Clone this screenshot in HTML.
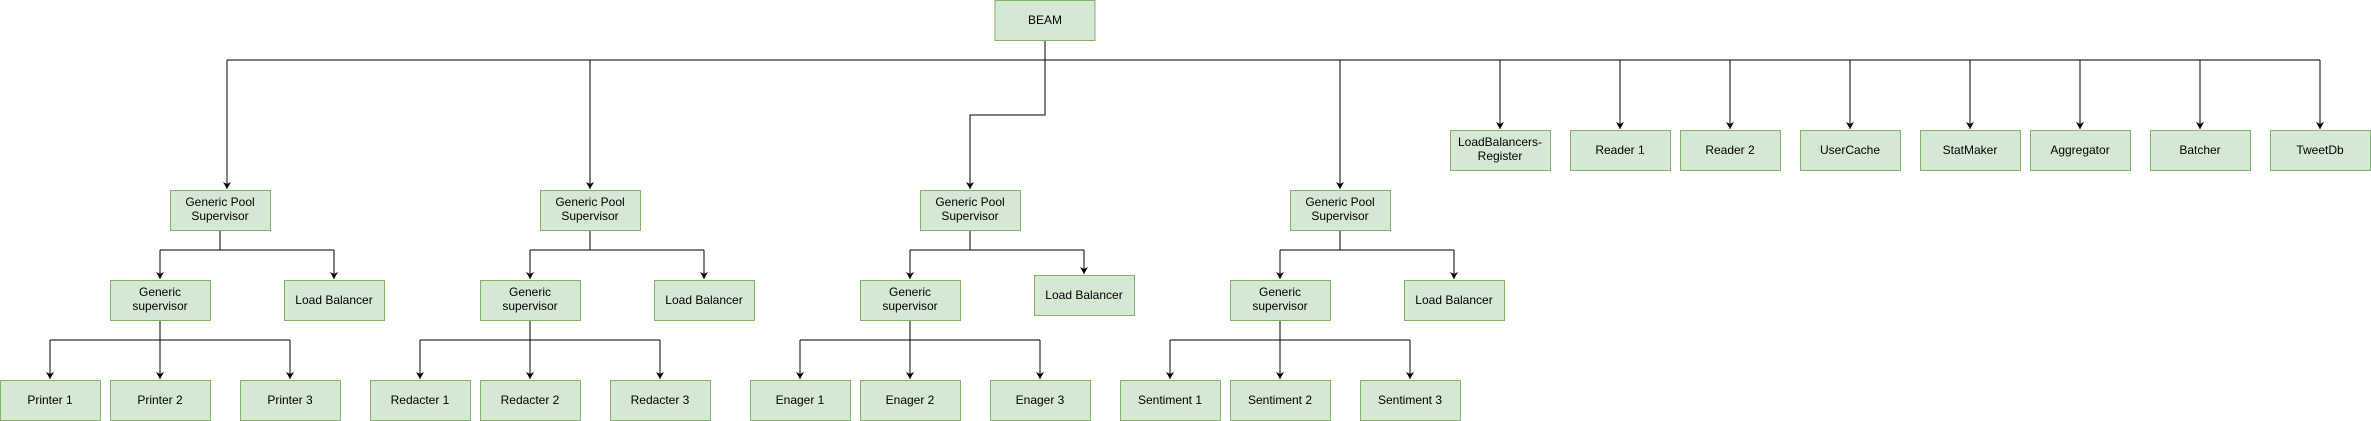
<!DOCTYPE html>
<html><head><meta charset="utf-8"><style>
html,body{margin:0;padding:0;background:#fff;}
svg{display:block;}
text{font-family:"Liberation Sans",Arial,sans-serif;font-size:12px;fill:#000;}
.b{fill:#d5e8d4;stroke:#82b366;stroke-width:1;}
.l{stroke:#000;stroke-width:1;fill:none;}
</style></head><body>
<svg width="2371" height="421" viewBox="0 0 2371 421" xmlns="http://www.w3.org/2000/svg">
<defs><marker id="a" markerWidth="8" markerHeight="8" refX="7" refY="4" orient="auto" markerUnits="userSpaceOnUse"><path d="M0,0 L7,4 L0,8 L2,4 Z" fill="#000" stroke="none"/></marker></defs>
<g class="l">
<path d="M1045,40 V115 H970 V189" marker-end="url(#a)"/>
<path d="M227,60 H2320"/>
<path d="M227,60 V189" marker-end="url(#a)"/>
<path d="M590,60 V189" marker-end="url(#a)"/>
<path d="M1340,60 V189" marker-end="url(#a)"/>
<path d="M1500,60 V129" marker-end="url(#a)"/>
<path d="M1620,60 V129" marker-end="url(#a)"/>
<path d="M1730,60 V129" marker-end="url(#a)"/>
<path d="M1850,60 V129" marker-end="url(#a)"/>
<path d="M1970,60 V129" marker-end="url(#a)"/>
<path d="M2080,60 V129" marker-end="url(#a)"/>
<path d="M2200,60 V129" marker-end="url(#a)"/>
<path d="M2320,60 V129" marker-end="url(#a)"/>
<path d="M220,230 V250 M160,250 H334"/>
<path d="M160,250 V279" marker-end="url(#a)"/><path d="M334,250 V279" marker-end="url(#a)"/>
<path d="M590,230 V250 M530,250 H704"/>
<path d="M530,250 V279" marker-end="url(#a)"/><path d="M704,250 V279" marker-end="url(#a)"/>
<path d="M970,230 V250 M910,250 H1084"/>
<path d="M910,250 V279" marker-end="url(#a)"/><path d="M1084,250 V274" marker-end="url(#a)"/>
<path d="M1340,230 V250 M1280,250 H1454"/>
<path d="M1280,250 V279" marker-end="url(#a)"/><path d="M1454,250 V279" marker-end="url(#a)"/>
<path d="M160,320 V340 M50,340 H290"/>
<path d="M50,340 V379" marker-end="url(#a)"/><path d="M160,340 V379" marker-end="url(#a)"/><path d="M290,340 V379" marker-end="url(#a)"/>
<path d="M530,320 V340 M420,340 H660"/>
<path d="M420,340 V379" marker-end="url(#a)"/><path d="M530,340 V379" marker-end="url(#a)"/><path d="M660,340 V379" marker-end="url(#a)"/>
<path d="M910,320 V340 M800,340 H1040"/>
<path d="M800,340 V379" marker-end="url(#a)"/><path d="M910,340 V379" marker-end="url(#a)"/><path d="M1040,340 V379" marker-end="url(#a)"/>
<path d="M1280,320 V340 M1170,340 H1410"/>
<path d="M1170,340 V379" marker-end="url(#a)"/><path d="M1280,340 V379" marker-end="url(#a)"/><path d="M1410,340 V379" marker-end="url(#a)"/>
</g>
<g>
<rect class="b" x="995" y="0.5" width="100" height="40"/><text x="1045" y="24" text-anchor="middle">BEAM</text>

<rect class="b" x="170.5" y="190.5" width="100" height="40"/><text x="220" y="206" text-anchor="middle">Generic Pool</text><text x="220" y="220" text-anchor="middle">Supervisor</text>
<rect class="b" x="540.5" y="190.5" width="100" height="40"/><text x="590" y="206" text-anchor="middle">Generic Pool</text><text x="590" y="220" text-anchor="middle">Supervisor</text>
<rect class="b" x="920.5" y="190.5" width="100" height="40"/><text x="970" y="206" text-anchor="middle">Generic Pool</text><text x="970" y="220" text-anchor="middle">Supervisor</text>
<rect class="b" x="1290.5" y="190.5" width="100" height="40"/><text x="1340" y="206" text-anchor="middle">Generic Pool</text><text x="1340" y="220" text-anchor="middle">Supervisor</text>

<rect class="b" x="110.5" y="280.5" width="100" height="40"/><text x="160" y="296" text-anchor="middle">Generic</text><text x="160" y="310" text-anchor="middle">supervisor</text>
<rect class="b" x="284.5" y="280.5" width="100" height="40"/><text x="334" y="304" text-anchor="middle">Load Balancer</text>
<rect class="b" x="480.5" y="280.5" width="100" height="40"/><text x="530" y="296" text-anchor="middle">Generic</text><text x="530" y="310" text-anchor="middle">supervisor</text>
<rect class="b" x="654.5" y="280.5" width="100" height="40"/><text x="704" y="304" text-anchor="middle">Load Balancer</text>
<rect class="b" x="860.5" y="280.5" width="100" height="40"/><text x="910" y="296" text-anchor="middle">Generic</text><text x="910" y="310" text-anchor="middle">supervisor</text>
<rect class="b" x="1034.5" y="275.5" width="100" height="40"/><text x="1084" y="299" text-anchor="middle">Load Balancer</text>
<rect class="b" x="1230.5" y="280.5" width="100" height="40"/><text x="1280" y="296" text-anchor="middle">Generic</text><text x="1280" y="310" text-anchor="middle">supervisor</text>
<rect class="b" x="1404.5" y="280.5" width="100" height="40"/><text x="1454" y="304" text-anchor="middle">Load Balancer</text>

<rect class="b" x="0.5" y="380.5" width="100" height="40"/><text x="50" y="404" text-anchor="middle">Printer 1</text>
<rect class="b" x="110.5" y="380.5" width="100" height="40"/><text x="160" y="404" text-anchor="middle">Printer 2</text>
<rect class="b" x="240.5" y="380.5" width="100" height="40"/><text x="290" y="404" text-anchor="middle">Printer 3</text>
<rect class="b" x="370.5" y="380.5" width="100" height="40"/><text x="420" y="404" text-anchor="middle">Redacter 1</text>
<rect class="b" x="480.5" y="380.5" width="100" height="40"/><text x="530" y="404" text-anchor="middle">Redacter 2</text>
<rect class="b" x="610.5" y="380.5" width="100" height="40"/><text x="660" y="404" text-anchor="middle">Redacter 3</text>
<rect class="b" x="750.5" y="380.5" width="100" height="40"/><text x="800" y="404" text-anchor="middle">Enager 1</text>
<rect class="b" x="860.5" y="380.5" width="100" height="40"/><text x="910" y="404" text-anchor="middle">Enager 2</text>
<rect class="b" x="990.5" y="380.5" width="100" height="40"/><text x="1040" y="404" text-anchor="middle">Enager 3</text>
<rect class="b" x="1120.5" y="380.5" width="100" height="40"/><text x="1170" y="404" text-anchor="middle">Sentiment 1</text>
<rect class="b" x="1230.5" y="380.5" width="100" height="40"/><text x="1280" y="404" text-anchor="middle">Sentiment 2</text>
<rect class="b" x="1360.5" y="380.5" width="100" height="40"/><text x="1410" y="404" text-anchor="middle">Sentiment 3</text>

<rect class="b" x="1450.5" y="130.5" width="100" height="40"/><text x="1500" y="146" text-anchor="middle">LoadBalancers-</text><text x="1500" y="160" text-anchor="middle">Register</text>
<rect class="b" x="1570.5" y="130.5" width="100" height="40"/><text x="1620" y="154" text-anchor="middle">Reader 1</text>
<rect class="b" x="1680.5" y="130.5" width="100" height="40"/><text x="1730" y="154" text-anchor="middle">Reader 2</text>
<rect class="b" x="1800.5" y="130.5" width="100" height="40"/><text x="1850" y="154" text-anchor="middle">UserCache</text>
<rect class="b" x="1920.5" y="130.5" width="100" height="40"/><text x="1970" y="154" text-anchor="middle">StatMaker</text>
<rect class="b" x="2030.5" y="130.5" width="100" height="40"/><text x="2080" y="154" text-anchor="middle">Aggregator</text>
<rect class="b" x="2150.5" y="130.5" width="100" height="40"/><text x="2200" y="154" text-anchor="middle">Batcher</text>
<rect class="b" x="2270.5" y="130.5" width="100" height="40"/><text x="2320" y="154" text-anchor="middle">TweetDb</text>
</g>
</svg>
</body></html>
